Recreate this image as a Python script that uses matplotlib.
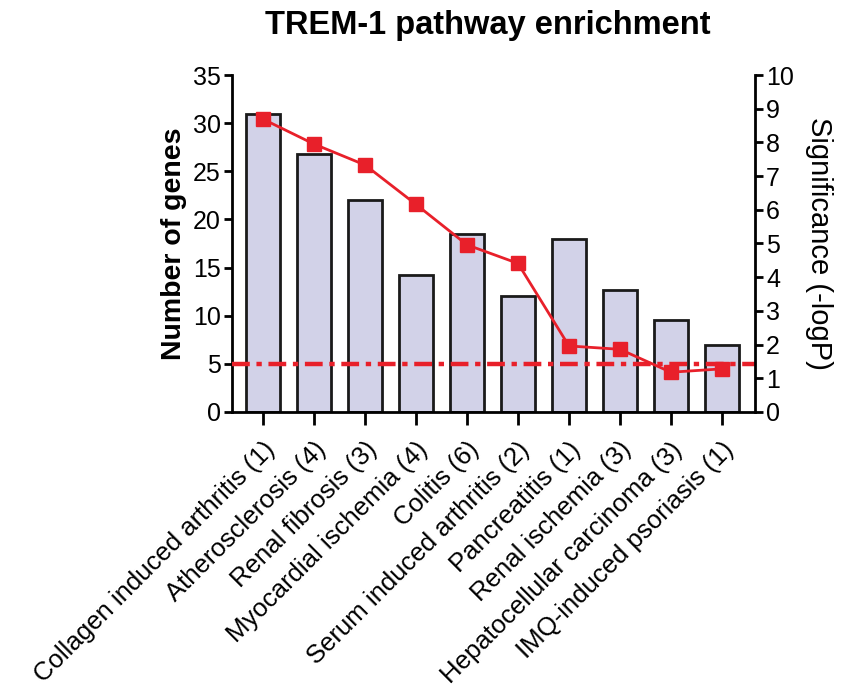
import matplotlib
matplotlib.use("Agg")
import matplotlib.pyplot as plt
import matplotlib.transforms as mtransforms
import numpy as np

plt.rcParams['font.family'] = ['Liberation Sans', 'DejaVu Sans']

categories = ["Collagen induced arthritis (1)", "Atherosclerosis (4)", "Renal fibrosis (3)",
              "Myocardial ischemia (4)", "Colitis (6)", "Serum induced arthritis (2)",
              "Pancreatitis (1)", "Renal ischemia (3)", "Hepatocellular carcinoma (3)",
              "IMQ-induced psoriasis (1)"]
genes = [31, 26.8, 22, 14.2, 18.5, 12, 18, 12.7, 9.6, 7]
significance = [8.69, 7.95, 7.33, 6.16, 4.96, 4.41, 1.96, 1.86, 1.18, 1.28]
threshold_genes = 5

fig = plt.figure(figsize=(8.42, 6.99), dpi=100)
ax = fig.add_axes([0.2755, 0.4106, 0.8967 - 0.2755, 0.8927 - 0.4106])
ax2 = ax.twinx()

x = np.arange(len(categories))
ax.bar(x, genes, width=0.67, color='#d2d2e8', edgecolor='#1a1a1a', linewidth=2, zorder=2)
ax.axhline(threshold_genes, color='#e8202a', linewidth=3.2, dashes=(4, 1.5, 1.2, 1.5), zorder=3)

ax2.plot(x, significance, color='#e8202a', linewidth=2, marker='s', markersize=10.5, zorder=4)

ax.set_xlim(-0.61, 9.65)
ax.set_ylim(0, 35)
ax2.set_ylim(0, 10)
ax.set_yticks(range(0, 36, 5))
ax2.set_yticks(range(0, 11, 1))

for a in (ax, ax2):
    a.spines['top'].set_visible(False)
    for s in a.spines.values():
        s.set_linewidth(2)
    a.tick_params(width=2, length=6, labelsize=18)
ax.spines['right'].set_visible(False)
ax2.spines['left'].set_visible(False)
ax2.spines['bottom'].set_visible(False)

ax.set_xticks(x)
ax.set_xticklabels(categories, rotation=45, ha='right', va='center', rotation_mode='anchor',
                   fontsize=18.5)
ax.tick_params(axis='x', length=9, pad=14)
ax.tick_params(axis='y', pad=2)
ax2.tick_params(axis='y', pad=2)
offset = mtransforms.ScaledTranslation(8 / 100, -2 / 100, fig.dpi_scale_trans)
for lbl in ax.get_xticklabels():
    lbl.set_transform(lbl.get_transform() + offset)

ax.set_ylabel("Number of genes", fontsize=20.5, fontweight='bold', labelpad=4)
ax2.set_ylabel("Significance (-logP)", fontsize=21, rotation=270, labelpad=28)

fig.text(0.579, 0.964, "TREM-1 pathway enrichment", fontsize=23.5, fontweight='bold',
         ha='center', va='center')

fig.savefig("out.png", dpi=100)
